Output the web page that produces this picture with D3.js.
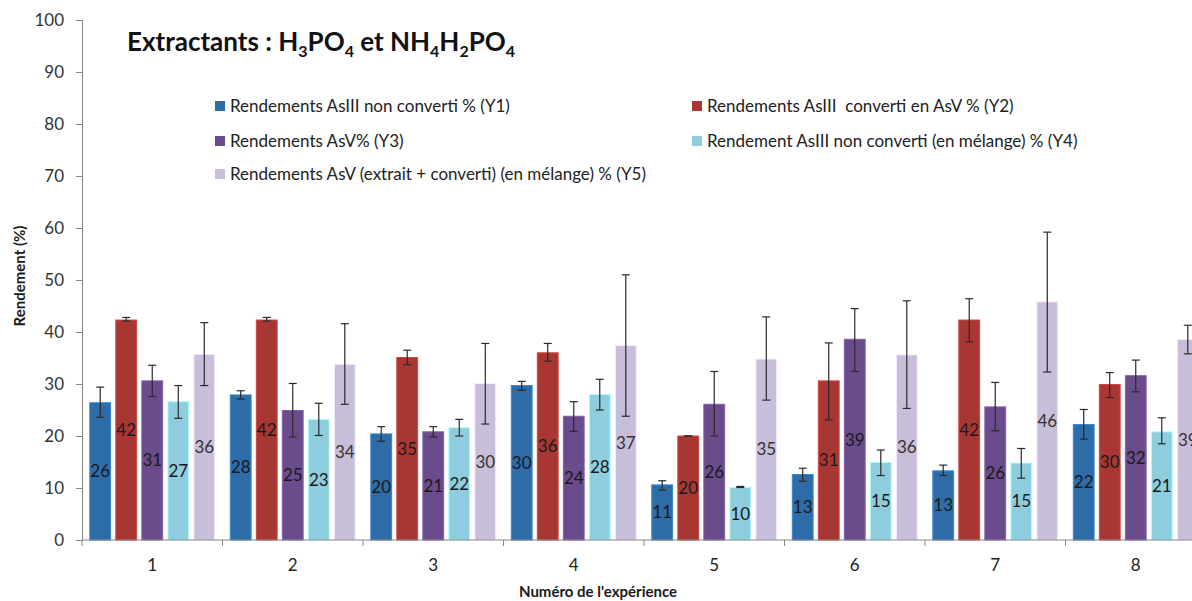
<!DOCTYPE html>
<html>
<head>
<meta charset="utf-8">
<script src="https://cdn.jsdelivr.net/npm/d3@7"></script>
<style>
  body { margin: 0; background: #fff; }
  svg { font-family: Lato, "Open Sans", sans-serif; }
</style>
</head>
<body>
<div id="chart"></div>
<script>
// Data
const categories = ["1", "2", "3", "4", "5", "6", "7", "8"];
const seriesKeys = ["Y1", "Y2", "Y3", "Y4", "Y5"];
const seriesNames = [
    "Rendements AsIII non converti % (Y1)",
    "Rendements AsIII  converti en AsV % (Y2)",
    "Rendements AsV% (Y3)",
    "Rendement AsIII non converti (en mélange) % (Y4)",
    "Rendements AsV (extrait + converti) (en mélange) % (Y5)"
];
const seriesColors = ["#2e6ca8", "#a83734", "#6a4c8c", "#8ecddd", "#c9bed9"];

const y1 = [26.4, 27.9, 20.4, 29.7, 10.6, 12.6, 13.3, 22.2];
const y2 = [42.3, 42.3, 35.1, 36.0, 20.0, 30.6, 42.3, 29.9];
const y3 = [30.6, 24.9, 20.8, 23.8, 26.1, 38.6, 25.6, 31.6];
const y4 = [26.6, 23.2, 21.6, 28.0, 10.1, 14.9, 14.8, 20.8];
const y5 = [35.7, 33.8, 30.1, 37.4, 34.8, 35.6, 45.8, 38.6];

// error bars: [low, high]
const y1Err = [[23.6, 29.4], [27.1, 28.7], [19.0, 21.8], [28.8, 30.5], [9.6, 11.4], [11.3, 13.8], [12.4, 14.4], [19.4, 25.1]];
const y2Err = [[42.1, 42.8], [42.1, 42.8], [33.7, 36.5], [34.4, 37.8], [20.0, 20.0], [23.1, 37.9], [38.1, 46.4], [27.4, 32.2]];
const y3Err = [[27.6, 33.6], [19.8, 30.1], [19.8, 21.8], [20.9, 26.6], [20.0, 32.4], [32.4, 44.5], [21.0, 30.3], [28.5, 34.6]];
const y4Err = [[23.4, 29.7], [20.1, 26.3], [20.0, 23.2], [25.0, 30.9], [10.1, 10.3], [12.4, 17.3], [11.9, 17.6], [18.5, 23.5]];
const y5Err = [[29.7, 41.8], [26.1, 41.6], [22.3, 37.8], [23.8, 51.0], [26.9, 42.9], [25.3, 46.0], [32.3, 59.2], [35.8, 41.3]];

const yTicks = [0, 10, 20, 30, 40, 50, 60, 70, 80, 90, 100];

const values = [y1, y2, y3, y4, y5];
const errors = [y1Err, y2Err, y3Err, y4Err, y5Err];

const W = 1192, H = 601;
const plotLeft = 82, plotBottom = 540, plotTop = 20;
const groupW = 140.5;

const svg = d3.select("#chart").append("svg")
    .attr("width", W)
    .attr("height", H);

// Scales
const x = d3.scaleBand()
    .domain(categories)
    .range([plotLeft, plotLeft + groupW * categories.length]);

const xInner = d3.scaleBand()
    .domain(seriesKeys)
    .range([0, x.bandwidth()])
    .paddingInner(0.2)
    .paddingOuter(0.3);

const y = d3.scaleLinear()
    .domain([0, 100])
    .range([plotBottom, plotTop]);

const axisColor = "#868686";

// Bars
seriesKeys.forEach((key, si) => {
    const g = svg.append("g").attr("class", "series-" + key);
    const rows = categories.map((c, i) => ({
        cat: c, value: values[si][i], lo: errors[si][i][0], hi: errors[si][i][1]
    }));

    g.selectAll("rect")
        .data(rows)
        .join("rect")
        .attr("x", d => x(d.cat) + xInner(key))
        .attr("y", d => y(d.value))
        .attr("width", xInner.bandwidth())
        .attr("height", d => y(0) - y(d.value))
        .style("fill", seriesColors[si])
        .style("stroke", d3.color(seriesColors[si]).brighter(0.6))
        .style("stroke-width", 1);

    // value labels in the middle of the bar
    g.selectAll("text.val")
        .data(rows)
        .join("text")
        .attr("class", "val")
        .attr("x", d => x(d.cat) + xInner(key) + xInner.bandwidth() / 2)
        .attr("y", d => (y(d.value) + y(0)) / 2)
        .attr("dy", "0.35em")
        .attr("text-anchor", "middle")
        .style("font-size", "17px")
        .style("fill", si === 4 ? "#333" : "#1a1a1a")
        .text(d => d3.format(".0f")(d.value));

    // error bars
    const eb = g.selectAll("g.err")
        .data(rows)
        .join("g")
        .attr("class", "err")
        .attr("transform", d => `translate(${x(d.cat) + xInner(key) + xInner.bandwidth() / 2},0)`);

    eb.append("line")
        .attr("y1", d => y(d.lo))
        .attr("y2", d => y(d.hi))
        .style("stroke", "#2a2a2a")
        .style("stroke-width", 1.2);
    eb.append("line")
        .attr("x1", -4).attr("x2", 4)
        .attr("y1", d => y(d.hi)).attr("y2", d => y(d.hi))
        .style("stroke", "#2a2a2a")
        .style("stroke-width", 1.2);
    eb.append("line")
        .attr("x1", -4).attr("x2", 4)
        .attr("y1", d => y(d.lo)).attr("y2", d => y(d.lo))
        .style("stroke", "#2a2a2a")
        .style("stroke-width", 1.2);
});

// Y axis
const yAxis = svg.append("g")
    .attr("transform", `translate(${plotLeft},0)`)
    .call(d3.axisLeft(y).tickValues(yTicks).tickSize(6).tickPadding(12));
yAxis.select(".domain").attr("stroke", axisColor);
yAxis.selectAll(".tick line").attr("stroke", axisColor);
yAxis.selectAll(".tick text")
    .style("font-size", "17px")
    .style("font-family", "Lato, sans-serif")
    .attr("fill", "#333");

// X axis: ticks at category boundaries
const xAxis = svg.append("g")
    .attr("transform", `translate(0,${plotBottom})`);
xAxis.append("line")
    .attr("x1", plotLeft).attr("x2", W)
    .attr("stroke", axisColor);
xAxis.selectAll("line.tk")
    .data(categories)
    .join("line")
    .attr("class", "tk")
    .attr("x1", d => x(d)).attr("x2", d => x(d))
    .attr("y1", 0).attr("y2", 6)
    .attr("stroke", axisColor);
xAxis.selectAll("text")
    .data(categories)
    .join("text")
    .attr("x", d => x(d) + x.bandwidth() / 2)
    .attr("y", 31)
    .attr("text-anchor", "middle")
    .style("font-size", "17px")
    .style("fill", "#222")
    .text(d => d);

// Axis titles
svg.append("text")
    .attr("x", 598)
    .attr("y", 597)
    .attr("text-anchor", "middle")
    .style("font-size", "15px")
    .style("font-weight", "bold")
    .style("fill", "#1a1a1a")
    .text("Numéro de l'expérience");

svg.append("text")
    .attr("transform", "translate(25,276) rotate(-90)")
    .attr("text-anchor", "middle")
    .style("font-size", "15px")
    .style("font-weight", "bold")
    .style("fill", "#1a1a1a")
    .text("Rendement (%)");

// Title with subscripts
const title = svg.append("text")
    .attr("x", 127)
    .attr("y", 51)
    .style("font-size", "26px")
    .style("font-weight", "bold")
    .style("fill", "#111");
const titleParts = [
    ["Extractants : H", false], ["3", true], ["PO", false], ["4", true],
    [" et NH", false], ["4", true], ["H", false], ["2", true], ["PO", false], ["4", true]
];
titleParts.forEach(([t, sub], i) => {
    const ts = title.append("tspan").text(t);
    if (sub) ts.attr("dy", 6).style("font-size", "16px");
    else if (i > 0) ts.attr("dy", -6);
});

// Legend
const legendPos = [
    [215, 106], [692, 106],
    [215, 141], [692, 141],
    [215, 174]
];
const legend = svg.append("g");
seriesNames.forEach((name, i) => {
    const [lx, ly] = legendPos[i];
    legend.append("rect")
        .attr("x", lx).attr("y", ly - 5)
        .attr("width", 10).attr("height", 10)
        .style("fill", seriesColors[i]);
    legend.append("text")
        .attr("x", lx + 15).attr("y", ly)
        .attr("dy", "0.35em")
        .style("font-size", "17px")
        .style("white-space", "pre")
        .style("fill", "#222")
        .text(name);
});
</script>
</body>
</html>
